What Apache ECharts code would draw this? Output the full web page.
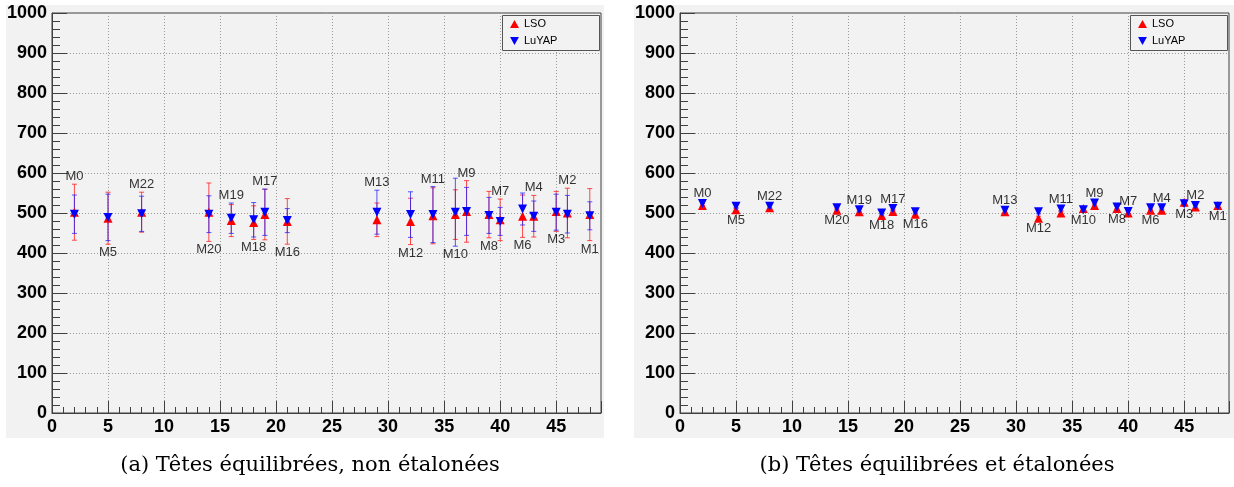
<!DOCTYPE html>
<html>
<head>
<meta charset="utf-8">
<script src="https://cdn.jsdelivr.net/npm/echarts@6/dist/echarts.min.js"></script>
<style>
html,body{margin:0;padding:0;background:#fff;}
#chart{width:1234px;height:487px;}
</style>
</head>
<body>
<div id="chart"></div>
<script>
// ---- data ----
const xPos = [2, 5, 8, 14, 16, 18, 19, 21, 29, 32, 34, 36, 37, 39, 40, 42, 43, 45, 46, 48];
const moduleNames = ['M0','M5','M22','M20','M19','M18','M17','M16','M13','M12','M11','M10','M9','M8','M7','M6','M4','M3','M2','M1'];
const labelSide = ['up','down','up','down','up','down','up','down','up','down','up','down','up','down','up','down','up','down','up','down'];

// (a) non étalonées
const lsoA      = [502, 487, 502, 502, 481, 476, 496, 479, 483, 479, 493, 496, 504, 496, 483, 492, 492, 504, 500, 496];
const lsoErrA   = [ 70,  65,  50,  73,  40,  42,  63,  57,  42,  58,  70,  62,  77,  58,  52,  53,  52,  50,  62,  65];
const luyapA    = [497, 489, 498, 497, 487, 483, 502, 481, 502, 496, 496, 502, 504, 494, 479, 510, 492, 502, 497, 493];
const luyapErrA = [ 48,  58,  44,  46,  38,  43,  58,  30,  55,  57,  70,  85,  60,  45,  35,  40,  38,  45,  47,  35];

// (b) étalonées
const lsoB      = [519, 508, 513, 507, 503, 494, 504, 497, 503, 487, 500, 511, 519, 511, 500, 507, 507, 527, 515, 519];
const lsoErrB   = [  5,   5,   5,   5,   5,   5,   5,   5,   5,   5,   5,   5,   5,   5,   5,   5,   5,   5,   5,   5];
const luyapB    = [524, 517, 517, 513, 508, 500, 511, 503, 507, 503, 510, 508, 525, 515, 504, 513, 513, 523, 519, 517];
const luyapErrB = [  5,   5,   5,   5,   5,   5,   5,   5,   5,   5,   5,   5,   5,   5,   5,   5,   5,   5,   5,   5];

const seriesNames = ['LSO', 'LuYAP'];
const captions = ['(a) Têtes équilibrées, non étalonées', '(b) Têtes équilibrées et étalonées'];

// ---- chart ----
const chart = echarts.init(document.getElementById('chart'), null, {renderer: 'canvas'});
const BG = '#f2f2f2';
const AX = '#404040';
const FONT = 'Liberation Sans';
const RED = '#ff0000', BLUE = '#0000ff';
const RED_BAR = 'rgba(255,30,30,0.8)', BLUE_BAR = 'rgba(30,30,255,0.75)';

function errRender(color) {
  return function (params, api) {
    const x = api.value(0), lo = api.value(1), hi = api.value(2);
    const a = api.coord([x, hi]), b = api.coord([x, lo]);
    const cw = 2.5;
    const style = {stroke: color, lineWidth: 1};
    return {type: 'group', children: [
      {type: 'line', shape: {x1: a[0], y1: a[1], x2: b[0], y2: b[1]}, style: style},
      {type: 'line', shape: {x1: a[0] - cw, y1: a[1], x2: a[0] + cw, y2: a[1]}, style: style},
      {type: 'line', shape: {x1: b[0] - cw, y1: b[1], x2: b[0] + cw, y2: b[1]}, style: style}
    ]};
  };
}

function panelSeries(gi, lso, lsoErr, luy, luyErr) {
  const common = {xAxisIndex: gi, yAxisIndex: gi};
  const labelData = xPos.map((x, k) => {
    const up = labelSide[k] === 'up';
    const anchor = up ? Math.max(lso[k] + lsoErr[k], luy[k] + luyErr[k])
                      : Math.min(lso[k] - lsoErr[k], luy[k] - luyErr[k]);
    return {value: [x, anchor], name: moduleNames[k],
            label: {position: up ? 'top' : 'bottom', distance: up ? 1 : 2}};
  });
  return [
    Object.assign({type: 'custom', name: 'LSO_err', renderItem: errRender(RED_BAR),
      data: xPos.map((x, k) => [x, lso[k] - lsoErr[k], lso[k] + lsoErr[k]]),
      encode: {x: 0, y: [1, 2]}, z: 2, silent: true}, common),
    Object.assign({type: 'custom', name: 'LuYAP_err', renderItem: errRender(BLUE_BAR),
      data: xPos.map((x, k) => [x, luy[k] - luyErr[k], luy[k] + luyErr[k]]),
      encode: {x: 0, y: [1, 2]}, z: 2, silent: true}, common),
    Object.assign({type: 'scatter', name: seriesNames[0], symbol: 'triangle', symbolSize: 9,
      itemStyle: {color: RED, opacity: 1}, data: xPos.map((x, k) => [x, lso[k]]), z: 3}, common),
    Object.assign({type: 'scatter', name: seriesNames[1], symbol: 'triangle', symbolRotate: 180, symbolSize: 9,
      itemStyle: {color: BLUE, opacity: 1}, data: xPos.map((x, k) => [x, luy[k]]), z: 4}, common),
    Object.assign({type: 'scatter', name: 'labels', symbolSize: 0, silent: true, z: 5,
      label: {show: true, formatter: p => p.name, color: '#000', fontSize: 13, fontFamily: FONT},
      data: labelData}, common)
  ];
}

function xAxisCfg(gi) {
  return {gridIndex: gi, type: 'value', min: 0, max: 49, interval: 5,
    axisLine: {show: true, onZero: false, lineStyle: {color: AX, width: 1}},
    axisTick: {show: true, inside: true, length: 12, lineStyle: {color: AX}},
    minorTick: {show: true, splitNumber: 5, length: 6, lineStyle: {color: AX}},
    axisLabel: {show: true, color: '#000', fontSize: 18, fontWeight: 'bold',
      fontFamily: FONT, margin: 5, showMaxLabel: false, formatter: v => String(v)},
    splitLine: {show: true, lineStyle: {color: '#9a9a9a', type: [1, 2], width: 1}}
  };
}
function yAxisCfg(gi) {
  return {gridIndex: gi, type: 'value', min: 0, max: 1000, interval: 100,
    axisLine: {show: true, onZero: false, lineStyle: {color: AX, width: 1}},
    axisTick: {show: true, inside: true, length: 15, lineStyle: {color: AX}},
    minorTick: {show: true, splitNumber: 5, length: 8, lineStyle: {color: AX}},
    axisLabel: {show: true, color: '#000', fontSize: 18, fontWeight: 'bold',
      fontFamily: FONT, margin: 5, formatter: v => String(v)},
    splitLine: {show: true, lineStyle: {color: '#9a9a9a', type: [1, 2], width: 1}}
  };
}

function legendCfg(left) {
  return {left: left, top: 18, orient: 'vertical', padding: 0, itemGap: 5,
    itemWidth: 9, itemHeight: 8, z: 20,
    textStyle: {fontSize: 11, lineHeight: 12, color: '#000', fontFamily: FONT},
    selectedMode: false,
    data: [{name: seriesNames[0], icon: 'triangle', itemStyle: {color: RED}},
           {name: seriesNames[1], icon: 'path://M0,0L10,0L5,9Z', itemStyle: {color: BLUE}}]};
}

const option = {
  animation: false,
  backgroundColor: '#ffffff',
  grid: [
    {left: 52, top: 13, width: 549, height: 400, show: true, borderColor: AX, borderWidth: 1, backgroundColor: 'transparent'},
    {left: 680, top: 13, width: 549, height: 400, show: true, borderColor: AX, borderWidth: 1, backgroundColor: 'transparent'}
  ],
  xAxis: [xAxisCfg(0), xAxisCfg(1)],
  yAxis: [yAxisCfg(0), yAxisCfg(1)],
  legend: [legendCfg(510), legendCfg(1138)],
  graphic: [
    {type: 'rect', shape: {x: 6, y: 5, width: 598, height: 433}, style: {fill: BG}, z: -10, silent: true},
    {type: 'rect', shape: {x: 634, y: 5, width: 600, height: 433}, style: {fill: BG}, z: -10, silent: true},
    {type: 'rect', shape: {x: 502.5, y: 15.5, width: 97, height: 35}, style: {fill: BG, stroke: '#555', lineWidth: 1}, z: 10, silent: true},
    {type: 'rect', shape: {x: 1130.5, y: 15.5, width: 97, height: 35}, style: {fill: BG, stroke: '#555', lineWidth: 1}, z: 10, silent: true},
    {type: 'text', x: 310, y: 466, style: {text: captions[0], fill: '#000', font: '21px "DejaVu Serif", serif', textAlign: 'center', textVerticalAlign: 'middle'}, silent: true},
    {type: 'text', x: 937, y: 466, style: {text: captions[1], fill: '#000', font: '21px "DejaVu Serif", serif', textAlign: 'center', textVerticalAlign: 'middle'}, silent: true}
  ],
  series: [].concat(
    panelSeries(0, lsoA, lsoErrA, luyapA, luyapErrA),
    panelSeries(1, lsoB, lsoErrB, luyapB, luyapErrB)
  )
};
chart.setOption(option);
</script>
</body>
</html>
